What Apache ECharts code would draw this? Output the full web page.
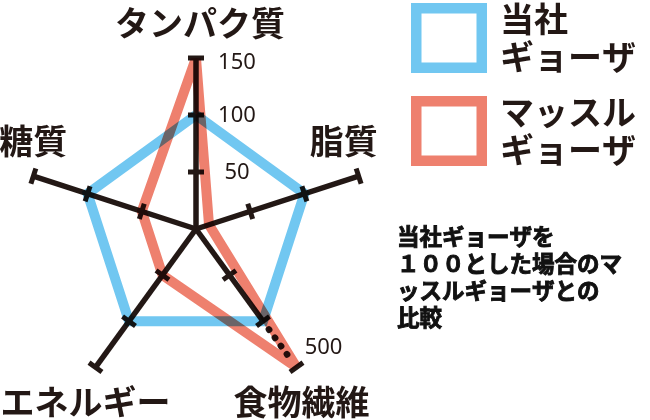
<!DOCTYPE html>
<html>
<head>
<meta charset="utf-8">
<script src="https://cdn.jsdelivr.net/npm/echarts@6/dist/echarts.min.js"></script>
<style>
  html, body { margin: 0; padding: 0; background: #fff; }
  #chart { width: 650px; height: 420px; }
</style>
</head>
<body>
<div id="chart"></div>
<script>
// データ
const indicators = ['タンパク質', '脂質', '食物繊維', 'エネルギー', '糖質'];
const seriesNames = ['当社ギョーザ', 'マッスルギョーザ'];
const legendLabels = ['当社\nギョーザ', 'マッスル\nギョーザ'];
const ourValues = [100, 100, 100, 100, 100];
const muscleValues = [150, 12, 500, 50, 50];
const tickValues = [50, 100, 150];
const scaleMax = 150;
// 食物繊維の軸だけ 100 から先を省略して 500 まで
const breakAxis = 2;
const breakStart = 100;
const breakEnd = 500;
const breakLabel = '500';
const noteText = '当社ギョーザを\n１００とした場合のマ\nッスルギョーザとの\n比較';

const ink = '#231815';
const colors = ['#71C7F1', '#EE806E'];
const jp = '"Noto Sans CJK JP", "Noto Sans", sans-serif';

const step = 360 / indicators.length;

// 省略部分を含めた表示用の値
function toScale(i, v) {
    if (i === breakAxis && v > breakStart) {
        return breakStart + (v - breakStart) / (breakEnd - breakStart) * (scaleMax - breakStart);
    }
    return v;
}

function polygon(values) {
    let pts = values.map((v, i) => [toScale(i, v), i * step]);
    pts.push([toScale(0, values[0]), 360]);
    return pts;
}

// 軸名の位置（軸の端からのずれ）
const nameOffset = [[4, -35], [-15, -35], [5, 35], [-10, 35], [0, -35]];

function renderAxis(params, api) {
    const i = params.dataIndex;
    const a = api.value(1);
    const pt = r => api.coord([r, a]);
    const o = pt(0);
    const e = pt(scaleMax);
    const len = Math.hypot(e[0] - o[0], e[1] - o[1]);
    const ux = (e[0] - o[0]) / len, uy = (e[1] - o[1]) / len;
    const nx = -uy, ny = ux;
    const bar = (p, h) => ({
        type: 'line',
        shape: { x1: p[0] - nx * h, y1: p[1] - ny * h, x2: p[0] + nx * h, y2: p[1] + ny * h },
        style: { stroke: ink, lineWidth: 5 }
    });
    const text = (x, y, s, size, weight, font) => ({
        type: 'text', x: x, y: y,
        style: { text: s, fill: ink, fontSize: size, fontWeight: weight, fontFamily: font, align: 'center', verticalAlign: 'middle' }
    });
    let children = [];
    const isBreak = i === breakAxis;
    const solidEnd = isBreak ? pt(breakStart) : e;
    children.push({
        type: 'line',
        shape: { x1: o[0], y1: o[1], x2: solidEnd[0], y2: solidEnd[1] },
        style: { stroke: ink, lineWidth: 5.5 }
    });
    tickValues.forEach(t => children.push(bar(pt(t), 8)));
    if (isBreak) {
        const b = pt(breakStart);
        children.push({
            type: 'line',
            shape: { x1: b[0] + ux * 10, y1: b[1] + uy * 10, x2: e[0] - ux * 8, y2: e[1] - uy * 8 },
            style: { stroke: ink, lineWidth: 6.5, lineCap: 'round', lineDash: [0.5, 9.7] }
        });
        children.push(text(e[0] + 27, e[1] - 20, breakLabel, 22, 'normal', '"Noto Sans", sans-serif'));
    }
    if (i === 0) {
        tickValues.forEach(t => {
            const p = pt(t);
            children.push(text(p[0] + 41, p[1] + (t === scaleMax ? 5 : 1), String(t), 22, 'normal', '"Noto Sans", sans-serif'));
        });
    }
    children.push(text(e[0] + nameOffset[i][0], e[1] + nameOffset[i][1], indicators[i], 34, 'bold', jp));
    return { type: 'group', children: children };
}

let myChart = echarts.init(document.getElementById('chart'));
let option = {
    backgroundColor: '#fff',
    animation: false,
    title: {
        text: noteText,
        left: 397,
        top: 223,
        padding: 0,
        textStyle: {
            fontFamily: jp, fontSize: 22.5, lineHeight: 27, fontWeight: 'bold', color: '#111',
            textBorderColor: '#111', textBorderWidth: 0.9
        }
    },
    legend: {
        orient: 'vertical',
        left: 411,
        top: 0,
        padding: 0,
        itemGap: 17,
        itemWidth: 76,
        itemHeight: 70,
        selectedMode: false,
        icon: 'path://M0 0H76V70H0Z M10.5 10.5V59.5H65.5V10.5Z',
        itemStyle: { borderWidth: 0 },
        data: seriesNames,
        formatter: name => legendLabels[seriesNames.indexOf(name)],
        textStyle: { fontFamily: jp, fontSize: 34, lineHeight: 38, fontWeight: 'bold', color: ink, padding: [0, 0, 0, 8] }
    },
    polar: {
        center: [196, 229],
        radius: 171
    },
    angleAxis: {
        type: 'value', min: 0, max: 360, startAngle: 90, clockwise: true, show: false
    },
    radiusAxis: {
        type: 'value', min: 0, max: scaleMax, show: false
    },
    series: [
        {
            name: seriesNames[0],
            type: 'line',
            coordinateSystem: 'polar',
            data: polygon(ourValues),
            showSymbol: false,
            blendMode: 'multiply',
            itemStyle: { color: colors[0] },
            lineStyle: { color: colors[0], width: 10, join: 'miter' }
        },
        {
            name: seriesNames[1],
            type: 'line',
            coordinateSystem: 'polar',
            data: polygon(muscleValues),
            showSymbol: false,
            blendMode: 'multiply',
            itemStyle: { color: colors[1] },
            lineStyle: { color: colors[1], width: 10, join: 'miter' }
        },
        {
            type: 'custom',
            coordinateSystem: 'polar',
            data: indicators.map((n, i) => [scaleMax, i * step]),
            renderItem: renderAxis,
            silent: true
        }
    ]
};
myChart.setOption(option);
window.addEventListener('resize', function () {
    myChart.resize();
});
</script>
</body>
</html>
